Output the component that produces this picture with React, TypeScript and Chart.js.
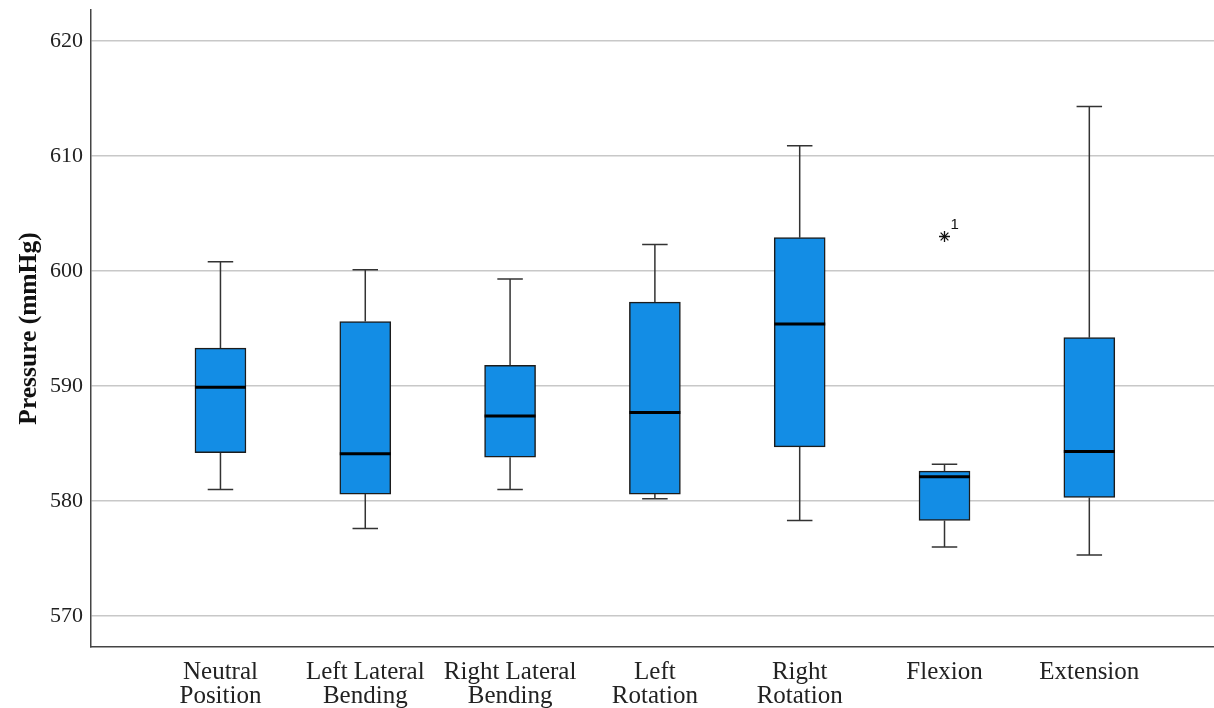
import React, { useEffect, useRef } from 'react';
import { Chart, registerables } from 'chart.js';

Chart.register(...registerables);

const categories: string[][] = [
  ['Neutral', 'Position'],
  ['Left Lateral', 'Bending'],
  ['Right Lateral', 'Bending'],
  ['Left', 'Rotation'],
  ['Right', 'Rotation'],
  ['Flexion'],
  ['Extension'],
];
const whiskerLow = [581.0, 577.6, 581.0, 580.2, 578.3, 576.0, 575.3];
const q1 = [584.2, 580.6, 583.8, 580.6, 584.7, 578.3, 580.3];
const median = [589.9, 584.1, 587.4, 587.7, 595.4, 582.1, 584.3];
const q3 = [593.3, 595.6, 591.8, 597.3, 602.9, 582.6, 594.2];
const whiskerHigh = [600.8, 600.1, 599.3, 602.3, 610.9, 583.2, 614.3];
const outlierCategory = [5];
const outlierValue = [603.0];
const outlierLabel = ['1'];
const yAxisTitle = 'Pressure (mmHg)';

const SERIF = "'Liberation Serif', 'Times New Roman', serif";

const boxPlugin = {
  id: 'boxWhiskers',
  afterDatasetsDraw(chart: any) {
    const { ctx } = chart;
    const x = chart.scales.x;
    const y = chart.scales.y;
    const meta = chart.getDatasetMeta(0);
    ctx.save();
    meta.data.forEach((bar: any, i: number) => {
      const cx = x.getPixelForValue(i);
      const half = bar.width / 2;
      const capHalf = half / 2;
      const yHi = y.getPixelForValue(whiskerHigh[i]);
      const yQ3 = y.getPixelForValue(q3[i]);
      const yQ1 = y.getPixelForValue(q1[i]);
      const yLo = y.getPixelForValue(whiskerLow[i]);
      const yMed = y.getPixelForValue(median[i]);
      ctx.strokeStyle = '#333';
      ctx.lineWidth = 1.5;
      ctx.beginPath();
      ctx.moveTo(cx, yQ3);
      ctx.lineTo(cx, yHi);
      ctx.moveTo(cx - capHalf, yHi);
      ctx.lineTo(cx + capHalf, yHi);
      ctx.moveTo(cx, yQ1);
      ctx.lineTo(cx, yLo);
      ctx.moveTo(cx - capHalf, yLo);
      ctx.lineTo(cx + capHalf, yLo);
      ctx.stroke();
      ctx.strokeStyle = '#000';
      ctx.lineWidth = 3;
      ctx.beginPath();
      ctx.moveTo(cx - half, yMed);
      ctx.lineTo(cx + half, yMed);
      ctx.stroke();
    });
    ctx.fillStyle = '#111';
    ctx.font = "15px 'Liberation Sans', Arial, sans-serif";
    ctx.textAlign = 'left';
    ctx.textBaseline = 'middle';
    outlierCategory.forEach((c, i) => {
      const px = x.getPixelForValue(c);
      const py = y.getPixelForValue(outlierValue[i]);
      ctx.fillText(outlierLabel[i], px + 6, py - 12);
    });
    ctx.restore();
  },
};

export default function App() {
  const ref = useRef<HTMLCanvasElement | null>(null);
  useEffect(() => {
    if (!ref.current) return;
    const chart = new Chart(ref.current, {
      type: 'bar',
      data: {
        datasets: [
          {
            type: 'bar',
            data: categories.map((_, i) => ({ x: i, y: [q1[i], q3[i]] })) as any,
            backgroundColor: 'rgb(19,141,229)',
            borderColor: '#1c1c1c',
            borderWidth: 1.5,
            borderSkipped: false,
            barThickness: 51,
          } as any,
          {
            type: 'scatter',
            data: outlierCategory.map((c, i) => ({ x: c, y: outlierValue[i] })),
            pointStyle: 'star',
            pointRadius: 5.5,
            borderColor: '#111',
            backgroundColor: '#111',
            borderWidth: 1.3,
          } as any,
        ],
      },
      options: {
        animation: false,
        responsive: true,
        maintainAspectRatio: false,
        layout: { autoPadding: false, padding: { top: 10, left: 0, right: 0, bottom: 0 } },
        plugins: { legend: { display: false }, tooltip: { enabled: false } },
        scales: {
          x: {
            type: 'linear',
            offset: false,
            min: -0.894,
            max: 6.861,
            afterBuildTicks: (s: any) => {
              s.ticks = categories.map((_, i) => ({ value: i }));
            },
            afterFit: (s: any) => {
              s.height = 61;
              s.paddingLeft = 0;
              s.paddingRight = 0;
            },
            grid: { display: false, drawTicks: false },
            border: { display: true, color: '#444', width: 1.5 },
            ticks: {
              padding: 13,
              color: '#222',
              autoSkip: false,
              maxRotation: 0,
              font: { family: SERIF, size: 25, lineHeight: 0.96 },
              callback: (v: any) => categories[v as number] ?? '',
            },
          },
          y: {
            type: 'linear',
            min: 567.3,
            max: 622.7,
            afterFit: (s: any) => {
              s.width = 91;
              s.paddingTop = 0;
              s.paddingBottom = 0;
            },
            grid: { color: '#c8c8c8', lineWidth: 1.5, drawTicks: false },
            border: { display: true, color: '#444', width: 1.5 },
            ticks: {
              stepSize: 10,
              includeBounds: false,
              padding: 8,
              color: '#222',
              font: { family: SERIF, size: 22 },
            },
            title: {
              display: true,
              text: yAxisTitle,
              color: '#111',
              font: { family: SERIF, size: 25.5, weight: 'bold' },
              padding: { top: 14, bottom: 0 },
            },
          },
        },
      } as any,
      plugins: [boxPlugin],
    });
    return () => chart.destroy();
  }, []);
  return (
    <div style={{ position: 'absolute', left: 0, top: 0, width: 1214, height: 708, background: '#fff' }}>
      <canvas ref={ref} />
    </div>
  );
}
